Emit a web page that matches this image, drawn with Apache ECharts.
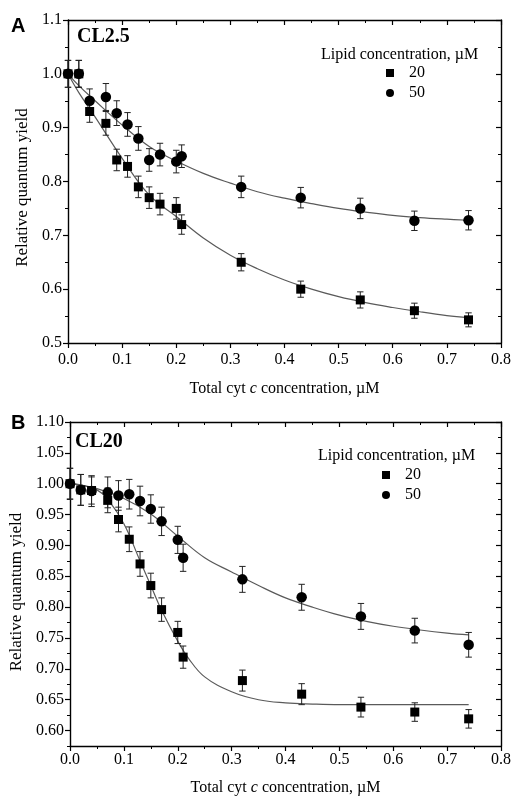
<!DOCTYPE html>
<html>
<head>
<meta charset="utf-8">
<script src="https://cdn.jsdelivr.net/npm/echarts@6.0.0/dist/echarts.min.js"></script>
<style>
  html, body { margin: 0; padding: 0; background: #fff; }
  #chart { width: 514px; height: 799px; }
</style>
</head>
<body>
<div id="chart"></div>
<script>
// 측정 농도 (Total cyt c, µM)
var xVals = [0, 0.02, 0.04, 0.07, 0.09, 0.11, 0.13, 0.15, 0.17, 0.20, 0.21, 0.32, 0.43, 0.54, 0.64, 0.74];

// 패널 A (CL2.5)
var aSq     = [1.0, 1.0, 0.93, 0.908, 0.84, 0.828, 0.79, 0.77, 0.758, 0.75, 0.72, 0.65, 0.60, 0.58, 0.56, 0.543];
var aSqErr  = [0.025, 0.025, 0.02, 0.022, 0.02, 0.02, 0.02, 0.02, 0.02, 0.02, 0.018, 0.016, 0.015, 0.015, 0.014, 0.013];
var aCir    = [1.0, 1.0, 0.95, 0.957, 0.927, 0.906, 0.88, 0.84, 0.85, 0.837, 0.847, 0.79, 0.77, 0.75, 0.727, 0.728];
var aCirErr = [0.025, 0.025, 0.022, 0.025, 0.023, 0.022, 0.022, 0.021, 0.021, 0.021, 0.021, 0.02, 0.019, 0.019, 0.018, 0.018];
var aSqFitX  = [0, 0.02, 0.05, 0.1, 0.15, 0.2, 0.25, 0.3, 0.35, 0.4, 0.45, 0.5, 0.55, 0.6, 0.65, 0.7, 0.74];
var aSqFitY  = [1.0, 0.965, 0.92, 0.843, 0.775, 0.735, 0.695, 0.663, 0.638, 0.617, 0.600, 0.586, 0.575, 0.566, 0.558, 0.551, 0.547];
var aCirFitX = [0, 0.02, 0.05, 0.1, 0.15, 0.2, 0.25, 0.3, 0.35, 0.4, 0.45, 0.5, 0.55, 0.6, 0.65, 0.7, 0.74];
var aCirFitY = [1.0, 0.978, 0.95, 0.905, 0.865, 0.838, 0.815, 0.797, 0.781, 0.769, 0.759, 0.750, 0.743, 0.737, 0.733, 0.730, 0.728];

// 패널 B (CL20)
var bSq     = [1.0, 0.99, 0.989, 0.973, 0.942, 0.910, 0.870, 0.835, 0.796, 0.759, 0.719, 0.681, 0.659, 0.638, 0.630, 0.619];
var bSqErr  = [0.025, 0.025, 0.022, 0.02, 0.02, 0.02, 0.02, 0.02, 0.019, 0.018, 0.018, 0.017, 0.017, 0.016, 0.015, 0.015];
var bCir    = [1.0, 0.99, 0.988, 0.986, 0.981, 0.983, 0.972, 0.959, 0.939, 0.909, 0.880, 0.845, 0.816, 0.785, 0.762, 0.739];
var bCirErr = [0.025, 0.025, 0.025, 0.025, 0.024, 0.024, 0.024, 0.023, 0.023, 0.022, 0.022, 0.021, 0.021, 0.021, 0.020, 0.020];
var bSqFitX  = [0, 0.02, 0.05, 0.07, 0.1, 0.13, 0.15, 0.17, 0.2, 0.22, 0.25, 0.3, 0.35, 0.4, 0.45, 0.5, 0.6, 0.74];
var bSqFitY  = [1.0, 0.998, 0.99, 0.975, 0.935, 0.875, 0.835, 0.795, 0.745, 0.717, 0.687, 0.663, 0.650, 0.645, 0.643, 0.642, 0.642, 0.642];
var bCirFitX = [0, 0.05, 0.1, 0.15, 0.2, 0.25, 0.3, 0.35, 0.4, 0.45, 0.5, 0.55, 0.6, 0.65, 0.7, 0.74];
var bCirFitY = [1.0, 0.992, 0.976, 0.951, 0.915, 0.88, 0.857, 0.835, 0.815, 0.8, 0.787, 0.777, 0.769, 0.763, 0.758, 0.755];

// 눈금
var xTicks   = [0, 0.1, 0.2, 0.3, 0.4, 0.5, 0.6, 0.7, 0.8];
var aYTicks  = [0.5, 0.6, 0.7, 0.8, 0.9, 1.0, 1.1];
var bYTicks  = [0.60, 0.65, 0.70, 0.75, 0.80, 0.85, 0.90, 0.95, 1.00, 1.05, 1.10];
var bYMinor  = [0.575, 0.625, 0.675, 0.725, 0.775, 0.825, 0.875, 0.925, 0.975, 1.025, 1.075];

var serif = 'Liberation Serif';
var axisColor = '#000';

function zip(xs, ys) {
    return xs.map(function(x, i) { return [x, ys[i]]; });
}
function zipErr(xs, ys, es) {
    return xs.map(function(x, i) { return [x, ys[i], es[i]]; });
}

// x축 (아래/위)
function xAxis(grid, pos, gap, margin) {
    var bottom = pos === 'bottom';
    return {
        type: 'value', gridIndex: grid, position: pos,
        min: xTicks[0], max: xTicks[xTicks.length - 1], interval: 0.1,
        axisLine: { show: true, onZero: false, lineStyle: { color: axisColor, width: 1.4 } },
        axisTick: { show: true, inside: !bottom, length: 5, lineStyle: { color: axisColor, width: 1.2 } },
        minorTick: { show: true, splitNumber: 2, length: 3, lineStyle: { color: axisColor, width: 1 } },
        splitLine: { show: false },
        axisLabel: { show: bottom, margin: margin, color: '#000', fontFamily: serif, fontSize: 16,
                     formatter: function(v) { return v.toFixed(1); } },
        name: bottom ? 'Total cyt {i|c} concentration, µM' : '',
        nameLocation: 'middle', nameGap: gap,
        nameTextStyle: { color: '#000', fontFamily: serif, fontSize: 16,
                         rich: { i: { fontStyle: 'italic', fontFamily: serif, fontSize: 16, color: '#000' } } }
    };
}

// 패널 A y축
function yAxisA(pos) {
    var left = pos === 'left';
    return {
        type: 'value', gridIndex: 0, position: pos,
        min: aYTicks[0], max: aYTicks[aYTicks.length - 1], interval: 0.1,
        axisLine: { show: true, onZero: false, lineStyle: { color: axisColor, width: 1.4 } },
        axisTick: { show: true, inside: !left, length: 5, lineStyle: { color: axisColor, width: 1.2 } },
        minorTick: { show: true, splitNumber: 2, length: 3, lineStyle: { color: axisColor, width: 1 } },
        splitLine: { show: false },
        axisLabel: { show: left, margin: 6, color: '#000', fontFamily: serif, fontSize: 16,
                     formatter: function(v) { return v.toFixed(1); } },
        name: left ? 'Relative quantum yield' : '',
        nameLocation: 'middle', nameGap: 37,
        nameTextStyle: { color: '#000', fontFamily: serif, fontSize: 17, padding: [0, 12, 0, 0] }
    };
}

// 패널 B y축 (주눈금 / 보조눈금)
function yAxisB(pos, minor) {
    var left = pos === 'left';
    var vals = minor ? bYMinor : bYTicks;
    return {
        type: 'value', gridIndex: 1, position: pos,
        min: 0.575, max: 1.1,
        axisLine: { show: !minor, onZero: false, lineStyle: { color: axisColor, width: 1.4 } },
        axisTick: { show: true, inside: !left, length: minor ? 3 : 5, customValues: vals,
                    lineStyle: { color: axisColor, width: minor ? 1 : 1.2 } },
        splitLine: { show: false },
        axisLabel: { show: left && !minor, margin: 6, customValues: bYTicks, color: '#000',
                     fontFamily: serif, fontSize: 16,
                     formatter: function(v) { return v.toFixed(2); } },
        name: (left && !minor) ? 'Relative quantum yield' : '',
        nameLocation: 'middle', nameGap: 42,
        nameTextStyle: { color: '#000', fontFamily: serif, fontSize: 17, padding: [0, 16, 0, 0] }
    };
}

// 오차 막대
function errBars(xi, yi, data) {
    return {
        type: 'custom', name: 'err', xAxisIndex: xi, yAxisIndex: yi, z: 2, silent: true,
        data: data,
        renderItem: function(params, api) {
            var x = api.value(0), y = api.value(1), e = api.value(2);
            var top = api.coord([x, y + e]);
            var bot = api.coord([x, y - e]);
            var w = 3.2;
            var style = { stroke: '#222', lineWidth: 1 };
            return {
                type: 'group',
                children: [
                    { type: 'line', shape: { x1: top[0], y1: top[1], x2: bot[0], y2: bot[1] }, style: style },
                    { type: 'line', shape: { x1: top[0] - w, y1: top[1], x2: top[0] + w, y2: top[1] }, style: style },
                    { type: 'line', shape: { x1: bot[0] - w, y1: bot[1], x2: bot[0] + w, y2: bot[1] }, style: style }
                ]
            };
        }
    };
}

function fitLine(xi, yi, data) {
    return {
        type: 'line', name: 'fit', xAxisIndex: xi, yAxisIndex: yi, z: 1, silent: true,
        data: data, smooth: 0.4, showSymbol: false, symbol: 'none',
        lineStyle: { color: '#5a5a5a', width: 1.2 }
    };
}

function points(name, xi, yi, data, sym) {
    return {
        type: 'scatter', name: name, xAxisIndex: xi, yAxisIndex: yi, z: 3,
        data: data, symbol: sym, symbolSize: sym === 'rect' ? 9 : 10.5,
        itemStyle: { color: '#000', opacity: 1 }
    };
}

function legendBox(left, top) {
    return {
        orient: 'vertical', left: left, top: top, padding: 0,
        itemWidth: 8, itemHeight: 8, itemGap: 4,
        selectedMode: false,
        textStyle: { color: '#000', fontFamily: serif, fontSize: 16, padding: [0, 0, 0, 10] },
        data: [{ name: '20', icon: 'rect' }, { name: '50', icon: 'circle' }]
    };
}

function label(text, left, top, style) {
    return { text: text, left: left, top: top, padding: 0, textStyle: style };
}

var letterStyle = { fontFamily: 'Liberation Sans', fontWeight: 'bold', fontSize: 20, color: '#000' };
var clStyle = { fontFamily: serif, fontWeight: 'bold', fontSize: 20, color: '#000' };
var lipidStyle = { fontFamily: serif, fontWeight: 'normal', fontSize: 16, color: '#000' };

var chart = echarts.init(document.getElementById('chart'), null, { renderer: 'canvas' });

var option = {
    animation: false,
    backgroundColor: '#fff',
    grid: [
        { left: 68, top: 20, right: 12, height: 323 },
        { left: 70, top: 422, right: 9, height: 324 }
    ],
    title: [
        label('A', 11, 16, letterStyle),
        label('B', 11, 413, letterStyle),
        label('CL2.5', 77, 27, clStyle),
        label('CL20', 75, 432, clStyle),
        label('Lipid concentration, µM', 321, 47, lipidStyle),
        label('Lipid concentration, µM', 318, 448, lipidStyle)
    ],
    legend: [legendBox(386, 65), legendBox(382, 467)],
    xAxis: [
        xAxis(0, 'bottom', 38, 9), xAxis(0, 'top', 0, 0),
        xAxis(1, 'bottom', 34, 6), xAxis(1, 'top', 0, 0)
    ],
    yAxis: [
        yAxisA('left'), yAxisA('right'),
        yAxisB('left', false), yAxisB('right', false),
        yAxisB('left', true), yAxisB('right', true)
    ],
    series: [
        fitLine(0, 0, zip(aSqFitX, aSqFitY)),
        fitLine(0, 0, zip(aCirFitX, aCirFitY)),
        errBars(0, 0, zipErr(xVals, aSq, aSqErr)),
        errBars(0, 0, zipErr(xVals, aCir, aCirErr)),
        points('20', 0, 0, zip(xVals, aSq), 'rect'),
        points('50', 0, 0, zip(xVals, aCir), 'circle'),

        fitLine(2, 2, zip(bSqFitX, bSqFitY)),
        fitLine(2, 2, zip(bCirFitX, bCirFitY)),
        errBars(2, 2, zipErr(xVals, bSq, bSqErr)),
        errBars(2, 2, zipErr(xVals, bCir, bCirErr)),
        points('20', 2, 2, zip(xVals, bSq), 'rect'),
        points('50', 2, 2, zip(xVals, bCir), 'circle')
    ]
};

chart.setOption(option);
</script>
</body>
</html>
